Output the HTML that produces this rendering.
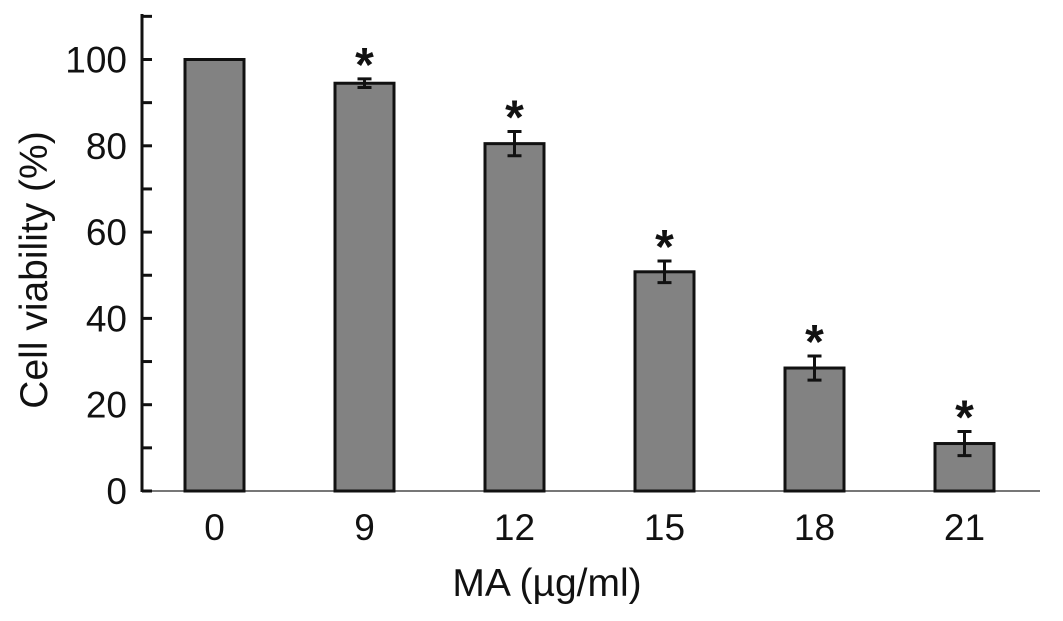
<!DOCTYPE html>
<html><head><meta charset="utf-8"><style>
html,body{margin:0;padding:0;background:#fff;}
svg{display:block;font-family:"Liberation Sans",Arial,sans-serif;}
</style></head><body>
<svg id="chart" width="1063" height="621">
<g id="plot"></g>
</svg>
<script>
const categories = ["0","9","12","15","18","21"];
const values = [100, 94.5, 80.5, 50.8, 28.5, 11];
const errors = [0, 1, 2.8, 2.5, 2.8, 2.8];
const significant = [false, true, true, true, true, true];
const yTickLabels = [0,20,40,60,80,100];
const yMinorTicks = [10,30,50,70,90,110];

const NS="http://www.w3.org/2000/svg";
const g=document.getElementById('plot');
const y0=491, pxPer=4.315, axisX=142;
const yScale=v=>y0-v*pxPer;
const xScale=i=>214.5+i*150;
const bw=59;
function mk(t,a,txt){const e=document.createElementNS(NS,t);for(const k in a)e.setAttribute(k,a[k]);if(txt!==undefined)e.textContent=txt;g.appendChild(e);return e;}

let e=mk('line',{x1:axisX,y1:y0,x2:1040,y2:y0,stroke:'#777','stroke-width':2});


e=mk('line',{x1:axisX,y1:14,x2:axisX,y2:y0+1,stroke:'#111','stroke-width':3});


yTickLabels.concat(yMinorTicks).forEach(v=>{
  const t=mk('line',{x1:axisX,y1:yScale(v),x2:152,y2:yScale(v),stroke:'#111','stroke-width':3});
  
  
});
yTickLabels.forEach(v=>{
  const t=mk('text',{x:127,y:yScale(v)+13,'text-anchor':'end','font-size':37,fill:'#111'},String(v));
  
  
});
categories.forEach((c,i)=>{
  const cx=xScale(i);
  const r=mk('rect',{x:cx-bw/2,y:yScale(values[i]),width:bw,height:y0-yScale(values[i]),fill:'#828282',stroke:'#111','stroke-width':3});
  
  
  if(errors[i]>0){
    const top=yScale(values[i]+errors[i]), bot=yScale(values[i]-errors[i]);
    const eb=mk('path',{d:`M${cx} ${top}V${bot}M${cx-7} ${top}H${cx+7}M${cx-7} ${bot}H${cx+7}`,stroke:'#111','stroke-width':3,fill:'none'});
    
    
  }
  const topV=values[i]+errors[i];
  if(significant[i]){
    const s=mk('text',{x:cx,y:yScale(topV)+2,'text-anchor':'middle','font-size':48,fill:'#111','font-weight':'bold'},'*');
    
    
  }
  const l=mk('text',{x:cx,y:540,'text-anchor':'middle','font-size':37,fill:'#111'},c);
  
  
});
e=mk('text',{x:547,y:596,'text-anchor':'middle','font-size':39,fill:'#111'},'MA (µg/ml)');


e=mk('text',{x:0,y:0,'text-anchor':'middle','font-size':39,fill:'#111',transform:'translate(47,270) rotate(-90)'},'Cell viability (%)');


</script>
</body></html>
